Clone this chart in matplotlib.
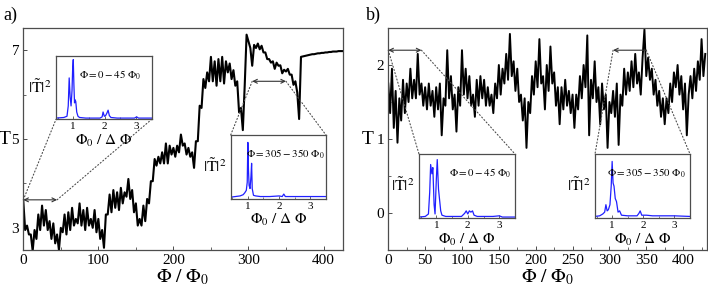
import numpy as np
import matplotlib
matplotlib.use("Agg")
import matplotlib.pyplot as plt
from matplotlib.patches import ConnectionPatch
from matplotlib.ticker import MultipleLocator

plt.rcParams["font.family"] = ["Liberation Serif", "DejaVu Serif"]
plt.rcParams["mathtext.fontset"] = "stix"

# ---- panel a: transmission vs flux (step 2.5) ----
step_a = 2.5
T_a = [
    3.60, 2.95, 3.05, 2.85, 2.85, 2.48, 2.95, 2.75, 3.30, 2.95, 3.50, 3.05, 3.40, 2.95, 3.15, 2.75,
    3.10, 2.65, 2.85, 2.50, 3.00, 2.90, 3.30, 2.85, 3.35, 2.95, 3.45, 3.05, 3.20, 3.10, 3.55, 3.05,
    3.40, 2.95, 3.45, 3.05, 3.20, 3.00, 3.40, 2.90, 3.20, 2.75, 2.95, 2.55, 3.30, 3.30, 3.75, 3.35,
    3.85, 3.45, 3.80, 3.40, 3.90, 3.55, 3.80, 3.70, 4.10, 3.65, 3.85, 3.35, 3.55, 3.05, 3.20, 3.05,
    3.50, 3.15, 3.65, 3.55, 4.05, 4.05, 4.55, 4.40, 4.60, 4.45, 4.70, 4.45, 4.90, 4.45, 4.85, 4.65,
    4.80, 4.60, 4.85, 4.70, 5.10, 4.85, 4.90, 4.65, 4.80, 4.60, 4.70, 4.35, 4.95, 4.95, 5.75, 5.70,
    6.35, 6.15, 6.50, 6.30, 6.85, 6.30, 6.75, 6.20, 6.80, 6.30, 6.85, 6.25, 6.75, 6.50, 6.70, 6.35,
    6.55, 6.20, 6.30, 5.60, 5.70, 5.20, 6.20, 7.35, 7.20, 7.05, 6.65, 7.12, 7.05, 7.15, 7.02, 7.10,
    6.95, 6.95, 6.80, 6.80, 6.72, 6.75, 6.58, 6.72, 6.65, 6.66, 6.48, 6.56, 6.52, 6.58, 6.45, 6.45,
    6.22, 6.30, 6.05, 5.45, 6.85, 6.86, 6.87, 6.88, 6.89, 6.90, 6.91, 6.91, 6.92, 6.93, 6.93, 6.94,
    6.94, 6.95, 6.95, 6.96, 6.96, 6.97, 6.97, 6.97, 6.98, 6.98, 6.98,
]

# ---- panel b: transmission vs flux (step 2.5) ----
step_b = 2.5
T_b = [
    1.75, 1.35, 1.95, 1.15, 1.65, 0.95, 1.55, 1.25, 1.80, 1.35, 1.75, 1.50, 1.95, 1.55, 1.80, 1.55,
    2.15, 1.60, 1.75, 1.45, 1.70, 1.40, 1.75, 1.45, 1.65, 1.30, 1.70, 1.40, 1.75, 1.05, 1.55, 1.45,
    2.20, 1.55, 1.85, 1.40, 1.60, 1.10, 1.70, 1.45, 2.20, 1.60, 1.95, 1.55, 1.85, 1.45, 1.60, 1.30,
    1.80, 1.45, 1.85, 1.55, 1.80, 1.45, 1.70, 1.45, 1.60, 1.35, 1.75, 1.55, 2.00, 1.60, 1.95, 1.75,
    2.15, 1.80, 2.42, 1.85, 2.05, 1.65, 1.95, 1.50, 1.60, 1.25, 1.55, 0.88, 1.50, 1.35, 1.85, 1.60,
    2.05, 1.70, 2.35, 1.75, 1.85, 1.40, 2.00, 1.65, 2.25, 1.75, 1.90, 1.45, 1.70, 1.20, 1.70, 1.40,
    1.80, 1.45, 1.65, 1.35, 1.60, 1.15, 1.60, 1.40, 1.85, 1.55, 2.00, 1.70, 2.40, 1.05, 1.80, 1.55,
    2.05, 1.50, 1.70, 1.20, 1.75, 1.40, 1.60, 0.88, 1.50, 1.35, 1.65, 1.30, 1.75, 0.92, 1.60, 1.45,
    1.95, 1.60, 1.90, 1.65, 2.05, 1.70, 2.15, 1.75, 1.90, 1.60, 2.10, 2.48, 1.85, 2.10, 1.80, 1.95,
    1.60, 1.80, 1.45, 1.65, 1.30, 1.55, 1.20, 1.55, 1.35, 1.75, 1.50, 1.90, 1.70, 2.00, 1.60, 1.85,
    1.40, 1.75, 1.05, 1.60, 1.85, 1.55, 1.95, 1.65, 2.05, 1.80, 2.35, 1.85, 2.15,
]

# ---- inset spectra |T~|^2 vs Phi0/dPhi (normalised) ----
f_a1 = [0.45, 0.70, 0.80, 0.84, 0.87, 0.90, 0.93, 0.96, 0.98, 1.00, 1.02, 1.04, 1.06, 1.08, 1.11, 1.15,
        1.20, 1.40, 1.85, 1.92, 1.95, 1.99, 2.03, 2.07, 2.11, 2.15, 2.20, 2.40, 2.95, 3.02, 3.08, 3.50]
A_a1 = [0.00, 0.01, 0.03, 0.20, 0.66, 0.35, 0.20, 0.45, 0.80, 0.96, 0.55, 0.25, 0.30, 0.27, 0.10, 0.03,
        0.01, 0.00, 0.00, 0.02, 0.10, 0.03, 0.04, 0.08, 0.13, 0.04, 0.01, 0.00, 0.00, 0.02, 0.00, 0.00]

f_a2 = [0.45, 0.60, 0.75, 0.85, 0.90, 0.95, 0.98, 1.00, 1.02, 1.04, 1.07, 1.10, 1.12, 1.14, 1.18, 1.25,
        1.40, 1.70, 2.00, 2.10, 2.15, 2.20, 2.40, 2.80, 3.10, 3.50]
A_a2 = [0.01, 0.02, 0.03, 0.05, 0.08, 0.12, 0.25, 0.90, 0.45, 0.20, 0.15, 0.35, 0.56, 0.15, 0.04, 0.03,
        0.02, 0.02, 0.03, 0.02, 0.06, 0.02, 0.02, 0.02, 0.02, 0.02]

f_b1 = [0.45, 0.65, 0.75, 0.79, 0.82, 0.86, 0.89, 0.93, 0.96, 1.00, 1.03, 1.07, 1.11, 1.14, 1.18, 1.30,
        1.80, 1.90, 1.95, 2.00, 2.05, 2.10, 2.15, 2.20, 2.30, 2.80, 3.00, 3.10, 3.50]
A_b1 = [0.00, 0.01, 0.05, 0.40, 0.85, 0.70, 0.80, 0.20, 0.05, 0.60, 0.93, 0.45, 0.25, 0.10, 0.03, 0.01,
        0.01, 0.06, 0.10, 0.05, 0.10, 0.08, 0.10, 0.03, 0.01, 0.01, 0.02, 0.00, 0.00]

f_b2 = [0.45, 0.60, 0.70, 0.76, 0.80, 0.84, 0.88, 0.93, 0.97, 1.00, 1.03, 1.06, 1.10, 1.14, 1.19, 1.24,
        1.30, 1.50, 1.80, 1.86, 1.90, 1.95, 2.10, 2.30, 2.70, 3.00, 3.50]
A_b2 = [0.01, 0.02, 0.05, 0.08, 0.20, 0.10, 0.12, 0.20, 0.50, 0.90, 0.55, 0.50, 0.30, 0.25, 0.08, 0.10,
        0.03, 0.02, 0.02, 0.06, 0.10, 0.03, 0.03, 0.02, 0.02, 0.02, 0.01]

phi_a = np.arange(len(T_a)) * step_a
phi_b = np.arange(len(T_b)) * step_b

fig = plt.figure(figsize=(7.08, 2.87), dpi=100)
ax_a = fig.add_axes([0.0329, 0.1289, 0.4516, 0.7735])
ax_b = fig.add_axes([0.5484, 0.1289, 0.4498, 0.7735])

frame = "0.3"


def style_main(ax, major, minor):
    for s in ax.spines.values():
        s.set_color(frame)
        s.set_linewidth(0.9)
    ax.tick_params(direction="in", length=3, width=0.7, color=frame, labelsize=11, pad=3)
    ax.tick_params(which="minor", direction="in", length=2, width=0.6, color=frame)
    ax.xaxis.set_major_locator(MultipleLocator(major))
    ax.xaxis.set_minor_locator(MultipleLocator(minor))
    ax.set_xlabel(r"$\Phi\ /\ \Phi_0$", fontsize=14, labelpad=0)


ax_a.plot(phi_a, T_a, color="k", lw=1.5)
ax_a.set_xlim(0, 426)
ax_a.set_ylim(2.5, 7.5)
ax_a.set_yticks([3, 5, 7])
ax_a.yaxis.set_minor_locator(MultipleLocator(1))
style_main(ax_a, 100, 50)
ax_a.text(-0.04, (5 - 2.5) / 5, "T", transform=ax_a.transAxes, fontsize=14,
          ha="right", va="center")

ax_b.plot(phi_b, T_b, color="k", lw=1.4)
ax_b.set_xlim(0, 432)
ax_b.set_ylim(-0.5, 2.5)
ax_b.set_yticks([0, 1, 2])
ax_b.yaxis.set_minor_locator(MultipleLocator(0.5))
style_main(ax_b, 50, 25)
ax_b.text(-0.045, (1 + 0.5) / 3, "T", transform=ax_b.transAxes, fontsize=14,
          ha="right", va="center")

fig.text(0.005, 0.975, "a)", fontsize=13, va="top")
fig.text(0.517, 0.975, "b)", fontsize=13, va="top")


def make_inset(rect, f, A, label, lx):
    ins = fig.add_axes(rect)
    ins.plot(f, A, color="#2020ff", lw=0.9)
    ins.set_xlim(0.45, 3.5)
    ins.set_ylim(-0.02, 1.02)
    ins.set_yticks([])
    ins.set_xticks([1, 2, 3])
    ins.xaxis.set_minor_locator(MultipleLocator(0.5))
    ins.tick_params(direction="in", length=2, width=0.6, labelsize=8, pad=2, color=frame)
    ins.tick_params(which="minor", direction="in", length=1.5, width=0.5, color=frame)
    for s in ins.spines.values():
        s.set_color(frame)
        s.set_linewidth(0.9)
    ins.set_xlabel(r"$\Phi_0\ /\ \Delta\ \Phi$", fontsize=11, labelpad=1)
    ins.text(-0.04, 0.5, r"$|\tilde{\mathrm{T}}|^2$", transform=ins.transAxes, fontsize=11.5,
             ha="right", va="center")
    ins.text(lx, 0.7, label, transform=ins.transAxes, fontsize=7.8, ha="right", va="center")
    return ins


in_a1 = make_inset([0.0791, 0.5843, 0.1352, 0.2206], f_a1, A_a1, r"$\Phi = 0 - 45\ \Phi_0$", 0.89)
in_a2 = make_inset([0.3258, 0.3066, 0.1346, 0.2230], f_a2, A_a2, r"$\Phi = 305 - 350\ \Phi_0$", 0.99)
in_b1 = make_inset([0.5918, 0.2394, 0.1356, 0.2240], f_b1, A_b1, r"$\Phi = 0 - 45\ \Phi_0$", 0.96)
in_b2 = make_inset([0.8404, 0.2394, 0.1342, 0.2240], f_b2, A_b2, r"$\Phi = 305 - 350\ \Phi_0$", 0.95)

# range arrows and dotted zoom lines
ranges = [
    (ax_a, in_a1, 0, 45, 3.63, "<->", 0.0),
    (ax_a, in_a2, 305, 350, 6.30, "<->", 1.0),
    (ax_b, in_b1, 0, 45, 2.20, "<->", 1.0),
    (ax_b, in_b2, 305, 350, 2.20, "->", 1.0),
]
for ax, ins, x0, x1, y, style, yc in ranges:
    ax.annotate("", xy=(x0, y), xytext=(x1, y),
                arrowprops=dict(arrowstyle=style, color="0.2", lw=0.8, shrinkA=0, shrinkB=0,
                                mutation_scale=7))
    for xd, xf in ((x0, 0.0), (x1, 1.0)):
        con = ConnectionPatch(xyA=(xd, y), coordsA=ax.transData, xyB=(xf, yc), coordsB=ins.transAxes,
                              linestyle=(0, (1, 2)), color="0.3", lw=0.8)
        fig.add_artist(con)

fig.savefig("out.png", dpi=100)
